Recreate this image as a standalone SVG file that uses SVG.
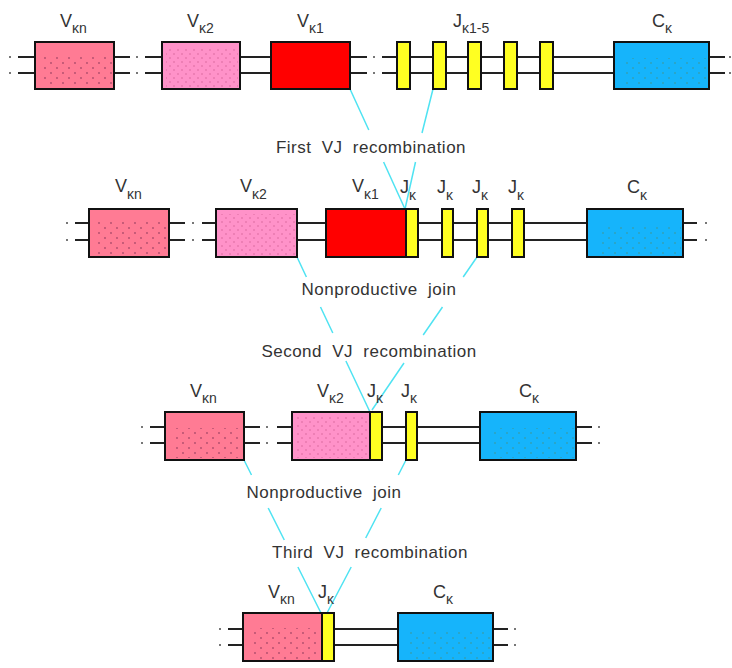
<svg xmlns="http://www.w3.org/2000/svg" width="732" height="668" viewBox="0 0 732 668">
<defs>
<pattern id="dotsN" width="12" height="10" patternUnits="userSpaceOnUse">
<circle cx="3" cy="3" r="0.9" fill="#9a4060"/><circle cx="9" cy="8" r="0.9" fill="#9a4060"/>
</pattern>
<pattern id="dots2" width="8" height="8" patternUnits="userSpaceOnUse">
<circle cx="2" cy="2" r="0.8" fill="#d05a90"/><circle cx="6" cy="6" r="0.8" fill="#d05a90"/>
</pattern>
<pattern id="dotsC" width="12" height="10" patternUnits="userSpaceOnUse">
<circle cx="3" cy="3" r="0.9" fill="#3a9aa0"/><circle cx="9" cy="8" r="0.9" fill="#3a9aa0"/>
</pattern>
<style>
.dna{stroke:#222;stroke-width:2;fill:none}
.dot{fill:#777}
.box{stroke:#111;stroke-width:2}
.vn{fill:#ff7b94}
.v2{fill:#ff92c9}
.v1{fill:#ff0000}
.j{fill:#ffff22}
.c{fill:#16b4fb}
.pat{opacity:0.8}
.lab{font-family:"Liberation Sans",Arial,sans-serif;font-size:18px;fill:#333}
.sub{font-size:14px}
.cap{font-family:"Liberation Sans",Arial,sans-serif;font-size:17px;fill:#333;letter-spacing:0.5px;word-spacing:5px;text-anchor:middle}
.cy{stroke:#4fe3f2;stroke-width:1.5;fill:none}
</style>
</defs>
<rect width="732" height="668" fill="#fff"/>

<!-- backbones -->
<g id="backbones">
<path class="dna" d="M18 57H35M114 57H130M145 57H367M382 57H725M18 73H35M114 73H130M145 73H367M382 73H725"/>
<g class="dot"><rect x="9" y="56" width="2" height="2"/><rect x="9" y="72" width="2" height="2"/><rect x="136" y="56" width="2" height="2"/><rect x="136" y="72" width="2" height="2"/><rect x="373" y="56" width="2" height="2"/><rect x="373" y="72" width="2" height="2"/><rect x="729" y="56" width="2" height="2"/><rect x="729" y="72" width="2" height="2"/></g>
<path class="dna" d="M75 223H185M202 223H697M75 240H185M202 240H697"/>
<g class="dot"><rect x="66" y="222" width="2" height="2"/><rect x="66" y="239" width="2" height="2"/><rect x="192" y="222" width="2" height="2"/><rect x="192" y="239" width="2" height="2"/><rect x="705" y="222" width="2" height="2"/><rect x="705" y="239" width="2" height="2"/></g>
<path class="dna" d="M150 427H260M277 427H592M150 443H260M277 443H592"/>
<g class="dot"><rect x="141" y="426" width="2" height="2"/><rect x="141" y="442" width="2" height="2"/><rect x="266" y="426" width="2" height="2"/><rect x="266" y="442" width="2" height="2"/><rect x="598" y="426" width="2" height="2"/><rect x="598" y="442" width="2" height="2"/></g>
<path class="dna" d="M228 629H508M228 645H508"/>
<g class="dot"><rect x="219" y="628" width="2" height="2"/><rect x="219" y="644" width="2" height="2"/><rect x="514" y="628" width="2" height="2"/><rect x="514" y="644" width="2" height="2"/></g>
</g>

<!-- connectors -->
<g id="connectors" class="cy">
<path d="M350 89L368.8 130M383.6 162L405 209"/>
<path d="M433 89L422 133M415.5 162L405 209"/>
<path d="M297 257L306.4 277M320.5 307L332.8 333M345.9 361L370 412"/>
<path d="M477 257L463.2 277M442.5 307L423.2 335M404 363L372 410"/>
<path d="M244 460L251.5 475M268.2 508L284.3 540M297.9 567L321 613"/>
<path d="M406 460L398.3 475M381.2 508L365.7 538M351.2 567L327 613"/>
</g>

<!-- row 1 -->
<g id="r1-vkn"><rect class="box vn" x="35" y="42" width="79" height="47"/><rect class="pat" x="42" y="55" width="70" height="32" fill="url(#dotsN)"/><text class="lab" x="60" y="27">V<tspan class="sub" dy="6">κn</tspan></text></g>
<g id="r1-vk2"><rect class="box v2" x="162" y="42" width="78" height="47"/><rect class="pat" x="166" y="47" width="72" height="40" fill="url(#dots2)"/><text class="lab" x="187" y="27">V<tspan class="sub" dy="6">κ2</tspan></text></g>
<g id="r1-vk1"><rect class="box v1" x="271" y="42" width="79" height="47"/><text class="lab" x="297" y="27">V<tspan class="sub" dy="6">κ1</tspan></text></g>
<g id="r1-j"><rect class="box j" x="397" y="42" width="13" height="47"/><rect class="box j" x="433" y="42" width="13" height="47"/><rect class="box j" x="468" y="42" width="13" height="47"/><rect class="box j" x="504" y="42" width="13" height="47"/><rect class="box j" x="540" y="42" width="13" height="47"/><text class="lab" x="453" y="27">J<tspan class="sub" dy="6">κ1-5</tspan></text></g>
<g id="r1-ck"><rect class="box c" x="614" y="42" width="95" height="47"/><rect class="pat" x="625" y="58" width="82" height="29" fill="url(#dotsC)"/><text class="lab" x="652" y="27">C<tspan class="sub" dy="6">κ</tspan></text></g>

<text class="cap" x="371" y="153">First VJ recombination</text>

<!-- row 2 -->
<g id="r2-vkn"><rect class="box vn" x="89" y="209" width="80" height="48"/><rect class="pat" x="96" y="222" width="70" height="33" fill="url(#dotsN)"/><text class="lab" x="115" y="192">V<tspan class="sub" dy="7">κn</tspan></text></g>
<g id="r2-vk2"><rect class="box v2" x="216" y="209" width="81" height="48"/><rect class="pat" x="220" y="214" width="75" height="41" fill="url(#dots2)"/><text class="lab" x="240" y="192">V<tspan class="sub" dy="7">κ2</tspan></text></g>
<g id="r2-vk1"><rect class="box v1" x="326" y="209" width="80" height="48"/><text class="lab" x="352" y="192">V<tspan class="sub" dy="7">κ1</tspan></text></g>
<g id="r2-j1"><rect class="box j" x="406" y="209" width="12" height="48"/><text class="lab" x="400" y="193">J<tspan class="sub" dy="7">κ</tspan></text></g>
<g id="r2-j2"><rect class="box j" x="442" y="209" width="11" height="48"/><text class="lab" x="437" y="193">J<tspan class="sub" dy="7">κ</tspan></text></g>
<g id="r2-j3"><rect class="box j" x="477" y="209" width="11" height="48"/><text class="lab" x="472" y="193">J<tspan class="sub" dy="7">κ</tspan></text></g>
<g id="r2-j4"><rect class="box j" x="512" y="209" width="12" height="48"/><text class="lab" x="508" y="193">J<tspan class="sub" dy="7">κ</tspan></text></g>
<g id="r2-ck"><rect class="box c" x="587" y="209" width="96" height="48"/><rect class="pat" x="598" y="225" width="83" height="30" fill="url(#dotsC)"/><text class="lab" x="627" y="193">C<tspan class="sub" dy="7">κ</tspan></text></g>

<text class="cap" x="379" y="295">Nonproductive join</text>
<text class="cap" x="369" y="357">Second VJ recombination</text>

<!-- row 3 -->
<g id="r3-vkn"><rect class="box vn" x="165" y="412" width="79" height="48"/><rect class="pat" x="172" y="428" width="70" height="30" fill="url(#dotsN)"/><text class="lab" x="190" y="397">V<tspan class="sub" dy="6">κn</tspan></text></g>
<g id="r3-vk2"><rect class="box v2" x="292" y="412" width="78" height="48"/><rect class="pat" x="296" y="417" width="72" height="41" fill="url(#dots2)"/><text class="lab" x="317" y="397">V<tspan class="sub" dy="6">κ2</tspan></text></g>
<g id="r3-j1"><rect class="box j" x="370" y="412" width="12" height="48"/><text class="lab" x="367" y="397">J<tspan class="sub" dy="6">κ</tspan></text></g>
<g id="r3-j2"><rect class="box j" x="406" y="412" width="11" height="48"/><text class="lab" x="401" y="397">J<tspan class="sub" dy="6">κ</tspan></text></g>
<g id="r3-ck"><rect class="box c" x="480" y="412" width="96" height="48"/><rect class="pat" x="491" y="428" width="83" height="30" fill="url(#dotsC)"/><text class="lab" x="519" y="397">C<tspan class="sub" dy="6">κ</tspan></text></g>

<text class="cap" x="324" y="498">Nonproductive join</text>
<text class="cap" x="370" y="558">Third VJ recombination</text>

<!-- row 4 -->
<g id="r4-vkn"><rect class="box vn" x="243" y="613" width="79" height="48"/><rect class="pat" x="250" y="628" width="70" height="31" fill="url(#dotsN)"/><text class="lab" x="268" y="598">V<tspan class="sub" dy="6">κn</tspan></text></g>
<g id="r4-j"><rect class="box j" x="322" y="613" width="12" height="48"/><text class="lab" x="318" y="598">J<tspan class="sub" dy="6">κ</tspan></text></g>
<g id="r4-ck"><rect class="box c" x="398" y="613" width="95" height="48"/><rect class="pat" x="409" y="629" width="82" height="30" fill="url(#dotsC)"/><text class="lab" x="433" y="598">C<tspan class="sub" dy="6">κ</tspan></text></g>
</svg>
